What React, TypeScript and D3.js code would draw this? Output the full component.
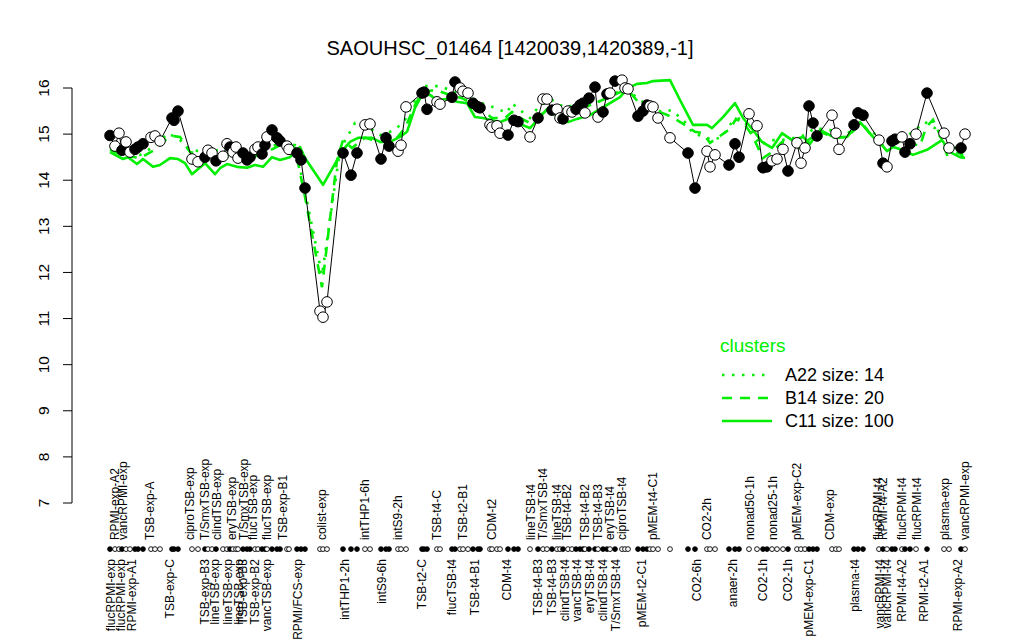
import React from 'react';
import * as d3 from 'd3';

const TITLE = 'SAOUHSC_01464 [1420039,1420389,-1]';
const Y_TICKS = [7, 8, 9, 10, 11, 12, 13, 14, 15, 16];

// [position along the condition axis, log2 expression, filled(1)/open(0)]
const conditionPoints: [number, number, number][] = [
  [0,14.97,1],[5,14.74,0],[9,15.02,0],[12,14.65,1],[16,14.83,0],[20,14.61,0],[25,14.67,1],[28,14.72,1],[33,14.79,1],
  [41,14.93,0],[45,14.96,0],[50,14.85,0],[62,15.35,1],[64,15.30,1],[68,15.50,1],[82,14.46,0],[88,14.40,0],
  [95,14.50,1],[98,14.65,0],[102,14.59,0],[106,14.42,1],[113,14.52,0],[117,14.79,0],[120,14.72,1],[123,14.61,0],
  [126,14.72,0],[128,14.48,0],[133,14.59,1],[137,14.44,1],[140,14.50,1],[145,14.67,0],[148,14.72,0],[152,14.57,1],
  [155,14.76,1],[157,14.94,0],[162,15.09,1],[167,14.92,1],[170,14.85,1],[177,14.74,0],[179,14.67,0],
  [187,14.59,1],[191,14.44,1],[195,13.83,1],[210,11.16,0],[213,11.03,0],[217,11.36,0],
  [233,14.59,1],[241,14.11,1],[247,14.59,1],[255,15.20,0],[260,15.22,0],[271,14.46,1],[276,14.92,1],[279,14.74,1],
  [288,14.63,0],[291,14.76,0],[296,15.59,0],[312,15.89,1],[314,15.91,1],[317,15.54,1],[327,15.70,0],[330,15.65,0],
  [342,15.80,1],[345,16.13,1],[350,16.00,0],[353,15.93,0],[358,15.89,0],[363,15.67,1],[368,15.59,1],[370,15.57,1],
  [380,15.20,0],[382,15.15,0],[387,15.18,0],[390,15.02,0],[398,14.98,1],[404,15.30,1],[408,15.27,1],
  [420,14.94,0],[428,15.35,1],[433,15.76,0],[437,15.76,0],[442,15.52,1],[447,15.54,0],[450,15.35,0],[453,15.33,1],
  [458,15.50,0],[462,15.48,0],[466,15.54,1],[470,15.63,1],[473,15.67,1],[475,15.46,0],[479,15.78,1],[485,16.02,1],
  [488,15.37,0],[493,15.48,1],[497,15.87,1],[500,15.89,0],[505,16.15,1],[512,16.17,0],[515,16.00,0],[518,15.98,0],
  [528,15.39,1],[533,15.50,1],[537,15.63,1],[540,15.61,0],[543,15.59,0],[548,15.35,0],[560,14.92,0],
  [578,14.59,1],[585,13.83,1],[597,14.63,0],[600,14.29,0],[605,14.55,0],[619,14.33,1],[625,14.79,1],[629,14.50,1],
  [639,15.44,0],[647,15.18,0],[653,14.27,1],[657,14.29,1],[662,14.42,0],[667,14.46,0],[673,14.67,0],[678,14.20,1],
  [687,14.81,0],[691,14.37,0],[695,14.70,0],[699,15.61,1],[703,15.24,1],[707,14.96,1],[722,15.41,0],[726,15.02,0],
  [729,14.67,0],[744,15.20,1],[748,15.46,1],[753,15.41,1],[769,14.87,0],[773,14.37,1],[777,14.29,0],[782,14.85,1],
  [785,14.89,1],[792,14.94,0],[795,14.61,1],[800,14.79,1],[806,15.00,0],[817,15.89,1],[834,15.02,0],[839,14.70,0],
  [851,14.70,1],[855,15.00,0],
];

const clusterC11: [number, number][] = [
  [0,14.61],[13,14.46],[18,14.50],[27,14.35],[33,14.46],[43,14.29],[50,14.33],[60,14.48],[68,14.46],[75,14.37],
  [82,14.13],[87,14.22],[95,14.37],[105,14.13],[110,14.26],[117,14.35],[127,14.29],[137,14.27],[145,14.33],[153,14.29],
  [162,14.50],[170,14.44],[180,14.50],[190,14.72],[195,14.48],[213,13.90],[233,14.66],[240,14.83],[248,14.92],[262,14.92],
  [270,14.83],[280,14.83],[290,14.94],[297,15.05],[305,15.57],[312,15.85],[320,15.85],[327,15.74],[337,15.76],[347,15.70],
  [357,15.67],[365,15.37],[373,15.35],[380,15.31],[390,15.26],[400,15.35],[408,15.24],[420,15.13],[430,15.37],[437,15.54],
  [443,15.48],[450,15.31],[458,15.26],[467,15.33],[480,15.41],[490,15.54],[500,15.67],[510,15.80],[518,16.00],[527,16.09],
  [537,16.11],[543,16.15],[560,16.17],[570,15.74],[583,15.20],[597,15.20],[602,15.13],[613,15.37],[625,15.67],[633,15.35],
  [643,15.09],[652,14.83],[662,14.70],[672,15.02],[682,14.87],[693,14.94],[700,14.79],[710,15.09],[725,14.92],[737,14.94],
  [750,15.26],[763,14.94],[772,14.76],[777,14.63],[783,14.72],[792,14.66],[803,14.55],[817,14.66],[832,14.87],[840,14.61],
  [850,14.50],[855,14.48],
];

const clusterB14: [number, number][] = [
  [0,14.66],[15,14.53],[30,14.48],[45,14.66],[55,14.87],[62,14.96],[70,14.94],[80,14.61],[95,14.55],[110,14.50],
  [125,14.53],[140,14.48],[155,14.59],[170,14.76],[185,14.70],[195,13.64],[212,11.68],[227,14.44],[233,14.87],[242,14.70],
  [255,14.92],[270,14.83],[285,14.87],[295,15.13],[305,15.63],[312,15.91],[325,15.96],[340,15.85],[352,15.78],[362,15.67],
  [372,15.52],[382,15.35],[395,15.35],[402,15.48],[410,15.35],[420,15.24],[430,15.41],[440,15.57],[452,15.41],[465,15.48],
  [480,15.63],[495,15.76],[510,15.91],[518,15.96],[528,15.70],[540,15.59],[550,15.48],[560,15.39],[572,15.24],[585,15.05],
  [593,15.02],[600,14.81],[610,14.96],[620,15.11],[626,15.33],[635,15.20],[642,14.98],[653,14.48],[662,14.61],[672,14.83],
  [687,14.76],[690,14.66],[698,14.87],[710,15.05],[725,14.92],[737,14.94],[752,15.24],[763,14.92],[775,14.72],[785,14.83],
  [798,14.83],[810,14.74],[816,15.15],[823,15.31],[830,14.98],[837,14.55],[850,14.59],[855,14.44],
];

const clusterA22: [number, number][] = [
  [0,14.70],[15,14.61],[30,14.55],[45,14.74],[58,15.02],[70,14.87],[80,14.66],[95,14.61],[110,14.66],[125,14.66],
  [140,14.59],[155,14.66],[170,14.81],[185,14.76],[195,13.75],[212,11.94],[230,14.66],[245,15.24],[255,15.20],[270,14.98],
  [285,15.09],[295,15.31],[305,15.74],[315,16.04],[330,16.04],[345,15.91],[360,15.80],[372,15.67],[385,15.57],[397,15.46],
  [402,15.67],[410,15.52],[420,15.35],[430,15.63],[442,15.74],[455,15.57],[470,15.67],[482,15.63],[500,15.83],[512,15.96],
  [520,15.91],[530,15.74],[540,15.59],[552,15.48],[562,15.52],[575,15.26],[583,15.02],[595,14.94],[602,14.87],[612,14.94],
  [622,15.26],[630,15.35],[640,15.13],[650,14.76],[660,14.87],[672,14.87],[685,14.92],[695,14.98],[705,15.13],[720,15.09],
  [735,14.98],[750,15.20],[762,15.05],[773,14.87],[785,14.87],[795,14.92],[805,15.09],[815,15.26],[825,15.13],[835,14.76],
  [845,14.70],[855,14.50],
];

const topLabelNames = [
  'RPMI-exp-A2','vancRPMI-exp','TSB-exp-A','ciproTSB-exp','T/SmxTSB-exp','clindTSB-exp','eryTSB-exp','T/SmxTSB-exp',
  'flucTSB-exp','flucTSB-exp','TSB-exp-B1','colist-exp','intTHP1-6h','intS9-2h','TSB-t4-C','TSB-t2-B1','CDM-t2',
  'lineTSB-t4','T/SmxTSB-t4','lineTSB-t4','TSB-t4-B2','TSB-t4-B2','TSB-t4-B3','eryTSB-t4','ciproTSB-t4','pMEM-t4-C1',
  'CO2-2h','nonad50-1h','nonad25-1h','pMEM-exp-C2','CDM-exp','flucRPMI-t4','RPMI-t4-A2','flucRPMI-t4','flucRPMI-t4',
  'plasma-exp','vancRPMI-exp',
];
const topLabelPos = [
  5,13,40,80,95,107,122,134,143,157,173,212,255,288,327,353,382,421,433,447,457,475,488,500,512,543,
  597,640,663,687,720,768,773,792,807,835,855,
];
const bottomLabelNames = [
  'flucRPMI-exp','flucRPMI-exp','RPMI-exp-A1','TSB-exp-C','TSB-exp-B3','lineTSB-exp','lineTSB-exp','lineTSB-exp',
  'TSB-exp-B3','TSB-exp-B2','vancTSB-exp','RPMI/FCS-exp','intTHP1-2h','intS9-6h','TSB-t2-C','flucTSB-t4','TSB-t4-B1',
  'CDM-t4','TSB-t4-B3','TSB-t4-B3','clindTSB-t4','vancTSB-t4','eryTSB-t4','clindTSB-t4','T/SmxTSB-t4','pMEM-t2-C1',
  'CO2-6h','anaer-2h','CO2-1h','CO2-1h','pMEM-exp-C1','plasma-t4','vancRPMI-t4','vancRPMI-t4','RPMI-t4-A2',
  'RPMI-t2-A1','RPMI-exp-A2',
];
const bottomLabelPos = [
  1,11,22,60,95,105,118,129,133,145,157,188,235,272,312,342,365,397,428,442,455,467,480,493,506,532,
  587,623,653,678,699,745,770,777,792,814,848,
];

const legendNames = ['A22 size: 14', 'B14 size: 20', 'C11 size: 100'];

const GREEN = '#00ee00';
const FONT = '"Liberation Sans", Arial, Helvetica, sans-serif';

export default function App() {
  const W = 1024, H = 640;
  const x = d3.scaleLinear().domain([0, 855]).range([110, 965]);
  const y = d3.scaleLinear().domain([7, 16]).range([503, 88]);
  const rowY = y(6);
  const axisX = 72;
  const line = d3.line<[number, number]>().x(d => x(d[0])).y(d => y(d[1]));
  const ptLine = d3.line<[number, number, number]>().x(d => x(d[0])).y(d => y(d[1]));

  const legendX = 722, legendY0 = 375, legendStep = 23;
  const legendDash = ['2.5 7.5', '10 8', ''];

  return (
    <svg width={W} height={H} style={{ position: 'absolute', left: 0, top: 0, background: '#fff' }}
      fontFamily={FONT}>
      <rect x={0} y={0} width={W} height={H} fill="#fff" />
      <text x={510} y={55} textAnchor="middle" fontSize={20}>{TITLE}</text>

      {/* y axis */}
      <line x1={axisX} x2={axisX} y1={y(7)} y2={y(16)} stroke="#000" strokeWidth={1} />
      {Y_TICKS.map(t => (
        <g key={t}>
          <line x1={axisX - 9} x2={axisX} y1={y(t)} y2={y(t)} stroke="#000" strokeWidth={1} />
          <text transform={`translate(${axisX - 29},${y(t)}) rotate(-90)`} textAnchor="middle"
            dominantBaseline="central" fontSize={15.5}>{t}</text>
        </g>
      ))}

      {/* cluster lines */}
      <path d={line(clusterC11) || ''} fill="none" stroke={GREEN} strokeWidth={2.6} strokeLinejoin="round" />
      <path d={line(clusterB14) || ''} fill="none" stroke={GREEN} strokeWidth={2.6} strokeDasharray="10 8" />
      <path d={line(clusterA22) || ''} fill="none" stroke={GREEN} strokeWidth={2.6} strokeDasharray="2.5 7.5" />

      {/* profile */}
      <path d={ptLine(conditionPoints) || ''} fill="none" stroke="#000" strokeWidth={1} />
      {conditionPoints.map((d, i) => (
        <circle key={i} cx={x(d[0])} cy={y(d[1])} r={5.3} fill={d[2] ? '#000' : '#fff'} stroke="#000" strokeWidth={1} />
      ))}

      {/* condition row */}
      {conditionPoints.map((d, i) => (
        <circle key={'r' + i} cx={x(d[0])} cy={rowY} r={2.4} fill={d[2] ? '#000' : '#fff'} stroke="#000" strokeWidth={0.9} />
      ))}
      {topLabelNames.map((n, i) => (
        <text key={'t' + i} transform={`translate(${x(topLabelPos[i])},${rowY - 9}) rotate(-90)`}
          textAnchor="start" dominantBaseline="central" fontSize={12}>{n}</text>
      ))}
      {bottomLabelNames.map((n, i) => (
        <text key={'b' + i} transform={`translate(${x(bottomLabelPos[i])},${rowY + 10}) rotate(-90)`}
          textAnchor="end" dominantBaseline="central" fontSize={12}>{n}</text>
      ))}

      {/* legend */}
      <text x={720} y={352} fill={GREEN} fontSize={19}>clusters</text>
      {legendNames.map((n, i) => (
        <g key={n}>
          <line x1={legendX} x2={legendX + 50} y1={legendY0 + i * legendStep} y2={legendY0 + i * legendStep}
            stroke={GREEN} strokeWidth={2.6} strokeDasharray={legendDash[i] || undefined} />
          <text x={785} y={legendY0 + i * legendStep} dominantBaseline="central" fontSize={18}>{n}</text>
        </g>
      ))}
    </svg>
  );
}
